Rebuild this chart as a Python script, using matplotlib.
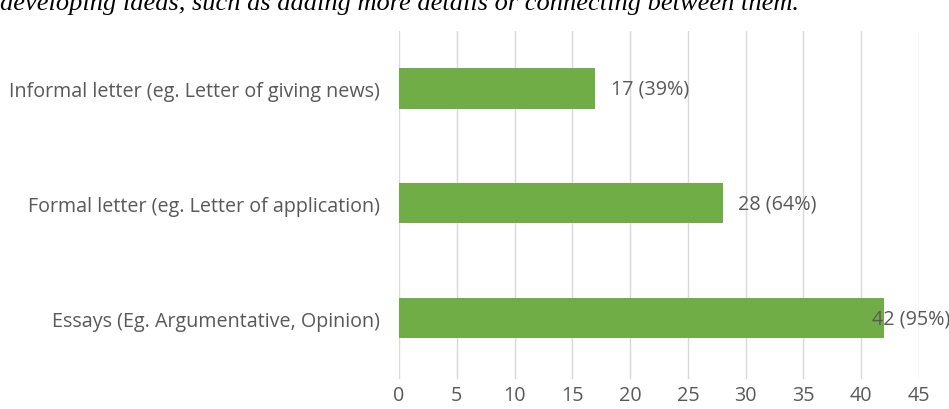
import matplotlib
matplotlib.use("Agg")
import matplotlib.pyplot as plt

categories = ["Essays (Eg. Argumentative, Opinion)",
              "Formal letter (eg. Letter of application)",
              "Informal letter (eg. Letter of giving news)"]
counts = [42, 28, 17]
percents = [95, 64, 39]
xticks = [0, 5, 10, 15, 20, 25, 30, 35, 40, 45]
title_text = "developing ideas, such as adding more details or connecting between them."

W, H = 949, 410
fig = plt.figure(figsize=(W / 100, H / 100), dpi=100)
top_px, bot_px = 32, 380
ax = fig.add_axes([399 / W, 1 - bot_px / H, (919 - 399) / W, (bot_px - top_px) / H])

gray = "#595959"
fs = 14.2
ax.barh(range(len(categories)), counts, height=0.35, color="#70ad47", zorder=3)
ax.set_xlim(0, 45)
ax.set_ylim(-0.53, 2.5)
ax.set_xticks(xticks)
ax.set_yticks(range(len(categories)))
ax.set_yticklabels(categories, fontfamily="Open Sans", fontsize=fs, color=gray)
ax.set_xticklabels([str(t) for t in xticks], fontfamily="Open Sans", fontsize=fs, color=gray)
ax.tick_params(axis="both", length=0)
ax.tick_params(axis="y", pad=14)
ax.tick_params(axis="x", pad=4)
ax.grid(axis="x", color="#d9d9d9", linewidth=1, zorder=0)
for s in ax.spines.values():
    s.set_visible(False)

for i, (c, p) in enumerate(zip(counts, percents)):
    off = -9 if c == max(counts) else 11
    ax.annotate(f"{c} ({p}%)", xy=(c, i), xytext=(off, 0), textcoords="offset points",
                va="center", ha="left", fontfamily="Open Sans", fontsize=fs,
                color=gray, zorder=4, annotation_clip=False)

fig.text(0, 1 - 10 / H, title_text, fontfamily="Liberation Serif", style="italic",
         fontsize=19, va="baseline", ha="left", color="black")

fig.savefig("out.png", dpi=100)
